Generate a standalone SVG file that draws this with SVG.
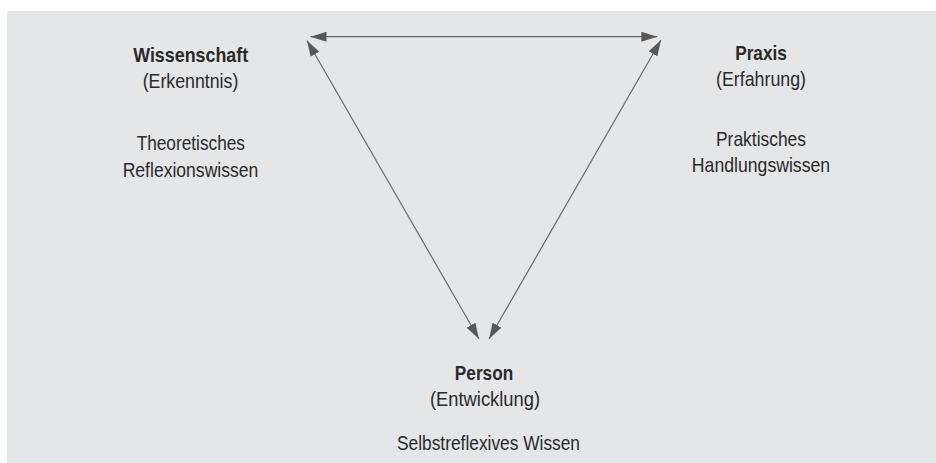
<svg xmlns="http://www.w3.org/2000/svg" width="936" height="463" viewBox="0 0 936 463">
  <style>
    .bg { fill: #e5e6e8; }
    .t { font-family: "Liberation Sans", Arial, sans-serif; font-size: 21px; fill: #2a2a2a; text-anchor: middle; }
    .b { font-weight: bold; }
    .conn { stroke: #6a6a6a; stroke-width: 1.2; fill: none; marker-start: url(#ah); marker-end: url(#ah); }
  </style>
  <defs>
    <marker id="ah" markerUnits="userSpaceOnUse" markerWidth="17" markerHeight="11" refX="16" refY="5" orient="auto-start-reverse" viewBox="0 0 17 11">
      <path d="M0,0 L16,5 L0,10 z" fill="#585858"/>
    </marker>
  </defs>
  <rect class="bg" x="7" y="11" width="929" height="452"/>

  <g id="connectors">
    <line class="conn" x1="310.5" y1="36.7" x2="657.3" y2="36.7"/>
    <line class="conn" x1="307" y1="40.5" x2="479" y2="339"/>
    <line class="conn" x1="661" y1="40" x2="489" y2="339"/>
  </g>

  <g id="wissenschaft">
    <text class="t b" x="190.7" y="62" textLength="115" lengthAdjust="spacingAndGlyphs">Wissenschaft</text>
    <text class="t" x="190.5" y="88" textLength="95.6" lengthAdjust="spacingAndGlyphs">(Erkenntnis)</text>
    <text class="t" x="190.8" y="150" textLength="108.3" lengthAdjust="spacingAndGlyphs">Theoretisches</text>
    <text class="t" x="190.5" y="176.5" textLength="135.6" lengthAdjust="spacingAndGlyphs">Reflexionswissen</text>
  </g>

  <g id="praxis">
    <text class="t b" x="761" y="60" textLength="51.7" lengthAdjust="spacingAndGlyphs">Praxis</text>
    <text class="t" x="761" y="86" textLength="90" lengthAdjust="spacingAndGlyphs">(Erfahrung)</text>
    <text class="t" x="761" y="145.7" textLength="90" lengthAdjust="spacingAndGlyphs">Praktisches</text>
    <text class="t" x="761" y="171.7" textLength="138.3" lengthAdjust="spacingAndGlyphs">Handlungswissen</text>
  </g>

  <g id="person">
    <text class="t b" x="484" y="380" textLength="58.3" lengthAdjust="spacingAndGlyphs">Person</text>
    <text class="t" x="485" y="406" textLength="110" lengthAdjust="spacingAndGlyphs">(Entwicklung)</text>
    <text class="t" x="488.5" y="450" textLength="183" lengthAdjust="spacingAndGlyphs">Selbstreflexives Wissen</text>
  </g>
</svg>
